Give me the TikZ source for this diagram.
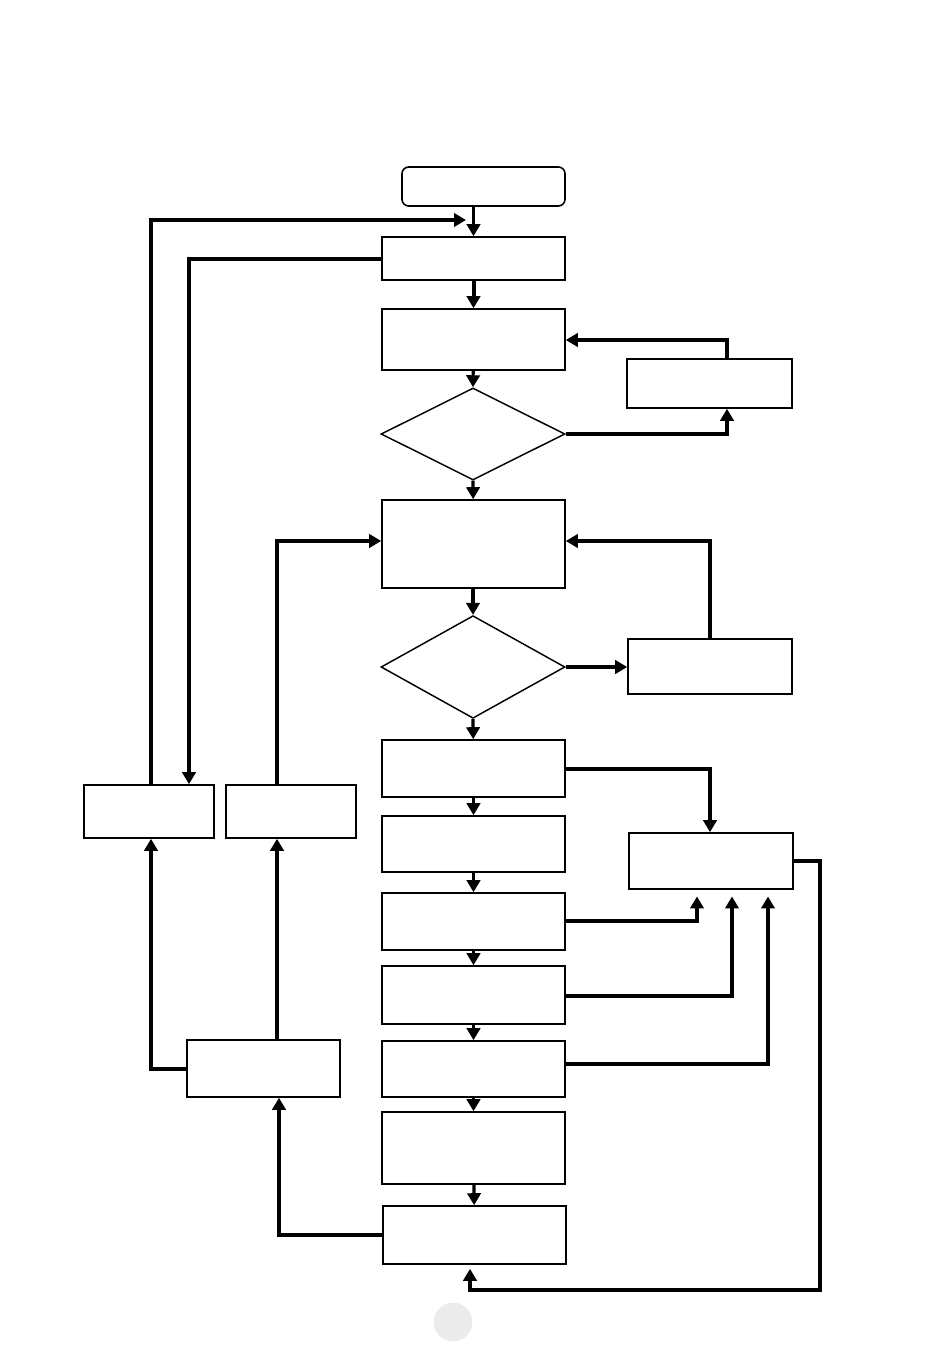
\documentclass[tikz,border=0pt]{standalone}
\usetikzlibrary{arrows.meta,shapes.geometric,fit}
\begin{document}
\begin{tikzpicture}[x=0.75pt,y=-0.75pt,
  box/.style={draw,line width=1.2pt,inner sep=0pt,rectangle},
  rbox/.style={box,rounded corners=5pt},
  dia/.style={draw,line width=1.1pt,diamond,inner sep=0pt,minimum width=138pt},
  conn/.style={line width=2.4pt,-{Triangle[width=10pt,length=9pt]}},
  thk/.style={conn,line width=3pt}]
\useasboundingbox (0,0) rectangle (950,1348);
% main column
\node[rbox,fit={(402,167)(565,206)}] (start) {};
\node[box,fit={(382,237)(565,280)}] (b1) {};
\node[box,fit={(382,309)(565,370)}] (b2) {};
\node[dia,minimum height=69pt] (d1) at (473,434) {};
\node[box,fit={(382,500)(565,588)}] (b3) {};
\node[dia,minimum height=77pt] (d2) at (473,667) {};
\node[box,fit={(382,740)(565,797)}] (b4) {};
\node[box,fit={(382,816)(565,872)}] (b5) {};
\node[box,fit={(382,893)(565,950)}] (b6) {};
\node[box,fit={(382,966)(565,1024)}] (b7) {};
\node[box,fit={(382,1041)(565,1097)}] (b8) {};
\node[box,fit={(382,1112)(565,1184)}] (b9) {};
\node[box,fit={(383,1206)(566,1264)}] (b10) {};
% right boxes
\node[box,fit={(627,359)(792,408)}] (r1) {};
\node[box,fit={(628,639)(792,694)}] (r2) {};
\node[box,fit={(629,833)(793,889)}] (r3) {};
% left boxes
\node[box,fit={(84,785)(214,838)}] (l1) {};
\node[box,fit={(226,785)(356,838)}] (l2) {};
\node[box,fit={(187,1040)(340,1097)}] (l3) {};
% page marker
\fill[black!8] (453,1322) circle[radius=14.5pt];
% coordinates
\coordinate (topin) at (466,220);
\coordinate (bot) at (470,1290);
% vertical flow
\draw[conn] (start.south -| b1.north) -- (b1.north);
\draw[thk] (b1) -- (b2);
\draw[conn] (b2) -- (d1.north);
\draw[conn] (d1.south) -- (b3);
\draw[conn] (b3.south -| d2.north) -- (d2.north);
\draw[conn] (d2.south) -- (b4);
\draw[conn] (b4) -- (b5);
\draw[conn] (b5) -- (b6);
\draw[conn] (b6) -- (b7);
\draw[conn] (b7) -- (b8);
\draw[conn] (b8) -- (b9);
\draw[conn] (b9) -- (b10);
% loops right
\draw[conn] (d1.east) -| (r1.south -| 727,0);
\draw[conn] (r1.north -| 727,0) |- (b2.east |- 0,340);
\draw[conn] (d2.east) -- (r2.west |- d2.east);
\draw[conn] (r2.north -| 710,0) |- (b3.east |- 0,541);
\draw[thk] (b4.east |- 0,769) -| (r3.north -| 710,0);
\draw[conn,shorten >=5pt] (b6.east |- 0,921) -| (r3.south -| 697,0);
\draw[thk,shorten >=5pt] (b7.east |- 0,996) -| (r3.south -| 732,0);
\draw[conn,shorten >=5pt] (b8.east |- 0,1064) -| (r3.south -| 768,0);
\draw[conn,shorten >=3pt] (r3.east) -| (820,1290) -| (b10.south -| bot);
% loops left
\draw[thk] (l1.north -| 151,0) |- (topin);
\draw[thk] (b1.west) -| (l1.north -| 189,0);
\draw[conn] (l2.north -| 277,0) |- (b3.west |- 0,541);
\draw[thk] (l3.west) -| (l1.south -| 151,0);
\draw[conn] (l3.north -| 277,0) -- (l2.south -| 277,0);
\draw[conn] (b10.west) -| (l3.south -| 279,0);
\end{tikzpicture}
\end{document}
